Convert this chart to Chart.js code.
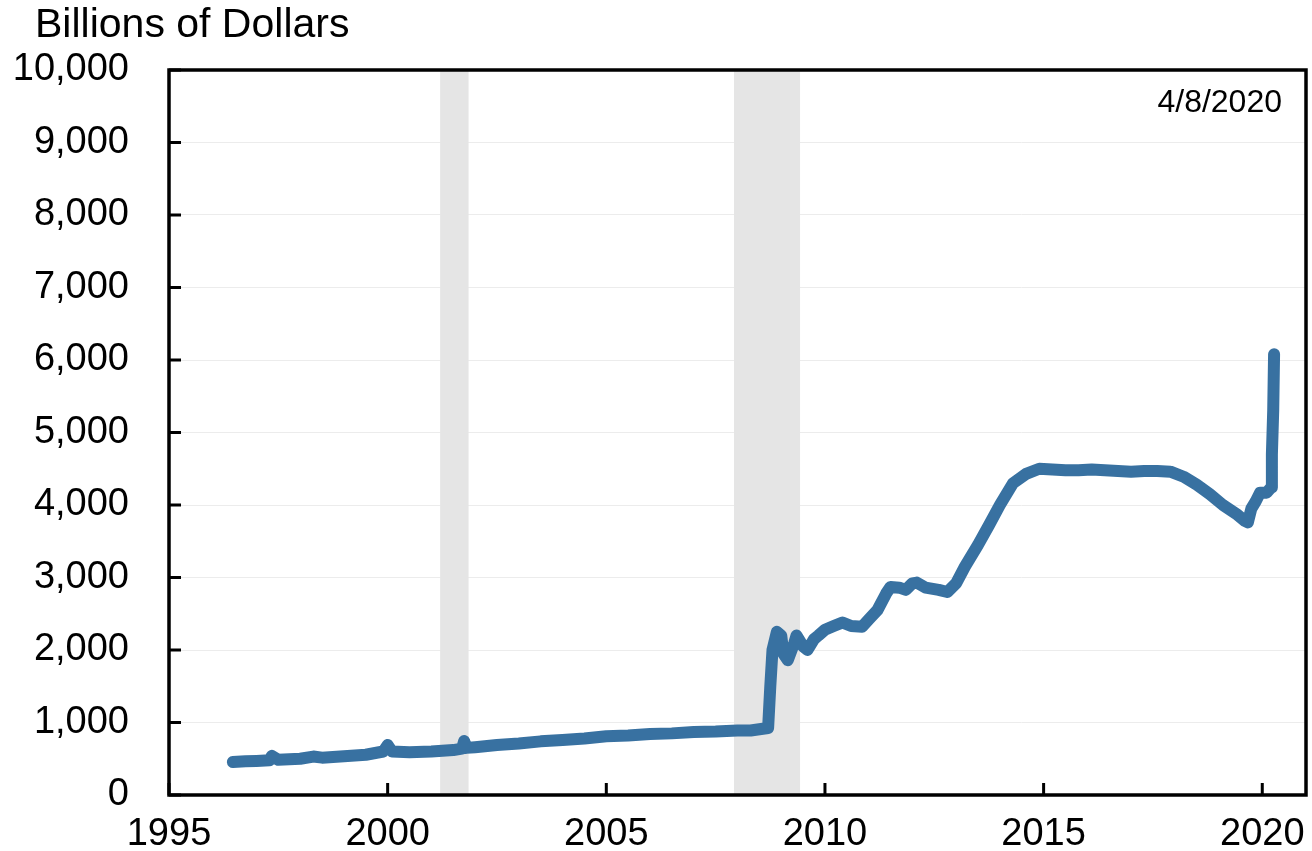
<!DOCTYPE html>
<html>
<head>
<meta charset="utf-8">
<script src="https://cdn.jsdelivr.net/npm/chart.js@4"></script>
<style>
  body { margin: 0; background: #fff; }
</style>
</head>
<body>
<canvas id="balanceChart" width="1312" height="851"></canvas>
<script>
// data ===========

const weekYears = [
  1996.46, 1996.75, 1997.0, 1997.3, 1997.35, 1997.5, 1998.0, 1998.3, 1998.5, 1999.0,
  1999.5, 1999.9, 2000.0, 2000.1, 2000.5, 2001.0, 2001.5, 2001.7, 2001.75, 2001.8,
  2002.0, 2002.5, 2003.0, 2003.5, 2004.0, 2004.5, 2005.0, 2005.5, 2006.0, 2006.5,
  2007.0, 2007.5, 2008.0, 2008.3, 2008.7, 2008.75, 2008.8, 2008.9, 2009.0, 2009.05,
  2009.15, 2009.3, 2009.35, 2009.5, 2009.6, 2009.75, 2009.85, 2010.0, 2010.2, 2010.4,
  2010.6, 2010.85, 2011.0, 2011.2, 2011.4, 2011.5, 2011.7, 2011.85, 2012.0, 2012.1,
  2012.3, 2012.6, 2012.8, 2013.0, 2013.2, 2013.5, 2013.75, 2014.0, 2014.3, 2014.6,
  2014.9, 2015.2, 2015.5, 2015.8, 2016.1, 2016.4, 2016.7, 2017.0, 2017.3, 2017.6,
  2017.9, 2018.2, 2018.5, 2018.8, 2019.1, 2019.4, 2019.6, 2019.67, 2019.75, 2019.85,
  2019.95, 2020.1, 2020.2, 2020.22, 2020.25, 2020.27,
];

const totalAssets = [
  455, 465, 470, 480, 540, 485, 500, 530, 515, 535,
  555, 600, 690, 600, 590, 600, 620, 640, 745, 650,
  660, 690, 710, 740, 760, 780, 810, 820, 840, 850,
  870, 875, 890, 890, 925, 1500, 2000, 2250, 2200, 1950,
  1860, 2100, 2200, 2050, 2000, 2150, 2200, 2280, 2330, 2380,
  2330, 2320, 2420, 2550, 2780, 2870, 2860, 2830, 2920, 2930,
  2860, 2830, 2800, 2920, 3150, 3450, 3720, 4000, 4300, 4430,
  4500, 4490, 4480, 4480, 4490, 4480, 4470, 4460, 4470, 4470,
  4460, 4390, 4280, 4150, 4000, 3880, 3780, 3760, 3950, 4050,
  4170, 4170, 4240, 4700, 5300, 6080,
];

const xTickYears = [1995, 2000, 2005, 2010, 2015, 2020];
const recessions = [
  [2001.2, 2001.85],
  [2007.92, 2009.43],
];
const unitLabel = "Billions of Dollars";
const dateLabel = "4/8/2020";

// plugins ===========

const recessionBands = {
  id: "recessionBands",
  beforeDatasetsDraw(chart) {
    const { ctx, chartArea, scales } = chart;
    ctx.save();
    ctx.fillStyle = "#e5e5e5";
    recessions.forEach(([from, to]) => {
      const x1 = scales.x.getPixelForValue(from);
      const x2 = scales.x.getPixelForValue(to);
      ctx.fillRect(x1, chartArea.top, x2 - x1, chartArea.bottom - chartArea.top);
    });
    ctx.restore();
  },
};

const frameAndText = {
  id: "frameAndText",
  afterDraw(chart) {
    const { ctx, chartArea, scales } = chart;
    const { left, right, top, bottom } = chartArea;
    ctx.save();
    ctx.strokeStyle = "#000";
    ctx.lineWidth = 3.5;
    ctx.strokeRect(left, top, right - left, bottom - top);

    // inward tick marks
    ctx.lineWidth = 3;
    ctx.beginPath();
    scales.y.ticks.forEach((t) => {
      const y = scales.y.getPixelForValue(t.value);
      ctx.moveTo(left, y);
      ctx.lineTo(left + 12, y);
    });
    xTickYears.forEach((yr) => {
      const x = scales.x.getPixelForValue(yr);
      ctx.moveTo(x, bottom);
      ctx.lineTo(x, bottom - 12);
    });
    ctx.stroke();

    ctx.fillStyle = "#000";
    ctx.font = "41px 'Liberation Sans', Arial, sans-serif";
    ctx.textAlign = "left";
    ctx.textBaseline = "alphabetic";
    ctx.fillText(unitLabel, 35, 37);

    ctx.font = "32px 'Liberation Sans', Arial, sans-serif";
    ctx.textAlign = "right";
    ctx.fillText(dateLabel, 1282, 112);
    ctx.restore();
  },
};

// no extra room for label overhang, the layout padding sets the plot box
const noOverhang = (scale) => {
  scale.paddingLeft = 0;
  scale.paddingRight = 0;
  scale.paddingTop = 0;
  scale.paddingBottom = 0;
};

// chart ===========

const ctx = document.getElementById("balanceChart").getContext("2d");

const balanceChart = new Chart(ctx, {
  type: "line",
  data: {
    datasets: [
      {
        data: weekYears.map((yr, i) => ({ x: yr, y: totalAssets[i] })),
        borderColor: "#3871a1",
        backgroundColor: "#3871a1",
        borderWidth: 12,
        borderCapStyle: "round",
        borderJoinStyle: "round",
        pointRadius: 0,
        tension: 0,
      },
    ],
  },
  options: {
    responsive: false,
    animation: false,
    layout: { padding: { top: 70, right: 6, left: 0, bottom: 0 } },
    plugins: {
      legend: { display: false },
      tooltip: { enabled: false },
    },
    scales: {
      x: {
        type: "linear",
        min: 1995,
        max: 2021,
        afterBuildTicks: (scale) => {
          scale.ticks = xTickYears.map((v) => ({ value: v }));
        },
        afterFit: (scale) => {
          scale.height = 56;
          noOverhang(scale);
        },
        grid: { display: false, drawTicks: false },
        border: { display: false },
        ticks: {
          color: "#000",
          padding: 17,
          maxRotation: 0,
          font: { family: "'Liberation Sans', Arial, sans-serif", size: 38 },
          callback: (v) => String(v),
        },
      },
      y: {
        min: 0,
        max: 10000,
        afterFit: (scale) => {
          scale.width = 169;
          noOverhang(scale);
        },
        grid: { color: "#ececec", lineWidth: 1, drawTicks: false },
        border: { display: false },
        ticks: {
          stepSize: 1000,
          color: "#000",
          padding: 40,
          font: { family: "'Liberation Sans', Arial, sans-serif", size: 38 },
          callback: (v) => v.toLocaleString("en-US"),
        },
      },
    },
  },
  plugins: [recessionBands, frameAndText],
});

// end chart ===========
</script>
</body>
</html>
